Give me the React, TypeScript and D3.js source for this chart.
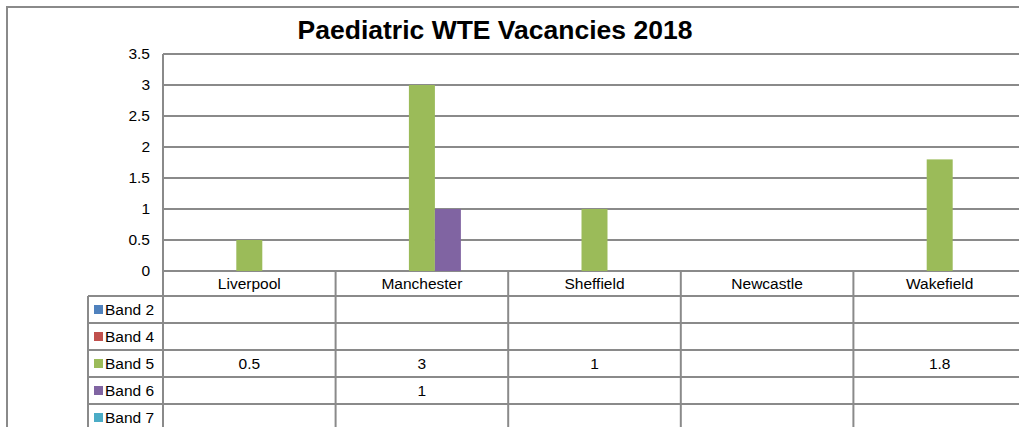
import React from 'react';
import * as d3 from 'd3';

const cities = ['Liverpool', 'Manchester', 'Sheffield', 'Newcastle', 'Wakefield'];
const bands = ['Band 2', 'Band 4', 'Band 5', 'Band 6', 'Band 7'];
const bandColors = ['#4F81BD', '#C0504D', '#9BBB59', '#8064A2', '#4BACC6'];
const band2 = [null, null, null, null, null];
const band4 = [null, null, null, null, null];
const band5 = [0.5, 3, 1, null, 1.8];
const band6 = [null, 1, null, null, null];
const band7 = [null, null, null, null, null];
const yTicks = [0, 0.5, 1, 1.5, 2, 2.5, 3, 3.5];

const series = [band2, band4, band5, band6, band7];

const W = 1019;
const H = 427;
const left = 163;
const right = 1026;
const top = 54;
const zeroY = 271;
const rowH = 27;
const legendLeft = 88;
const grid = '#8a8a8a';
const font = 'Liberation Sans, Arial, sans-serif';
const fs = 15.5;

const App = () => {
  const x = d3.scaleBand<string>().domain(cities).range([left, right]);
  const x1 = d3.scaleBand<string>().domain(bands).range([0, x.bandwidth()]).paddingOuter(0.82);
  const y = d3.scaleLinear().domain([0, 3.5]).range([zeroY, top]);

  const tableTop = zeroY + 25;
  const rowY = (i: number) => tableTop + i * rowH;

  return (
    <svg width={W} height={H} style={{ position: 'absolute', left: 0, top: 0, background: '#fff' }} fontFamily={font}>
      <rect x={7} y={7} width={W + 20} height={H + 20} fill="#fff" stroke={grid} strokeWidth={2} />
      <text x={495} y={39} textAnchor="middle" fontSize={26.5} fontWeight="bold" fill="#000">
        Paediatric WTE Vacancies 2018
      </text>

      {yTicks.map(t => (
        <g key={t}>
          <line x1={left} x2={right} y1={y(t)} y2={y(t)} stroke={grid} strokeWidth={2} />
          <text x={150} y={y(t)} dy="0.35em" textAnchor="end" fontSize={fs} fill="#000">{t}</text>
        </g>
      ))}
      <line x1={left} x2={left} y1={top} y2={H} stroke={grid} strokeWidth={2} />

      {series.map((vals, si) => vals.map((v, ci) => v == null ? null : (
        <rect key={`${si}-${ci}`}
          x={(x(cities[ci]) ?? 0) + (x1(bands[si]) ?? 0)}
          y={y(v)}
          width={x1.bandwidth()}
          height={y(0) - y(v)}
          fill={bandColors[si]} />
      )))}

      {/* table */}
      {cities.map((c, i) => (
        <g key={c}>
          <line x1={(x(c) ?? 0) + x.bandwidth()} x2={(x(c) ?? 0) + x.bandwidth()} y1={zeroY} y2={H} stroke={grid} strokeWidth={2} />
          <text x={(x(c) ?? 0) + x.bandwidth() / 2} y={zeroY + 13} dy="0.35em" textAnchor="middle" fontSize={fs} fill="#000">{c}</text>
        </g>
      ))}
      <line x1={legendLeft} x2={legendLeft} y1={tableTop} y2={H} stroke={grid} strokeWidth={2} />
      {bands.map((b, i) => (
        <g key={b}>
          <line x1={legendLeft} x2={right} y1={rowY(i)} y2={rowY(i)} stroke={grid} strokeWidth={2} />
          <rect x={94} y={rowY(i) + rowH / 2 - 4.5} width={9} height={9} fill={bandColors[i]} />
          <text x={105} y={rowY(i) + rowH / 2} dy="0.35em" fontSize={fs} fill="#000">{b}</text>
          {series[i].map((v, ci) => v == null ? null : (
            <text key={ci} x={(x(cities[ci]) ?? 0) + x.bandwidth() / 2} y={rowY(i) + rowH / 2} dy="0.35em" textAnchor="middle" fontSize={fs} fill="#000">{v}</text>
          ))}
        </g>
      ))}
    </svg>
  );
};

export default App;
